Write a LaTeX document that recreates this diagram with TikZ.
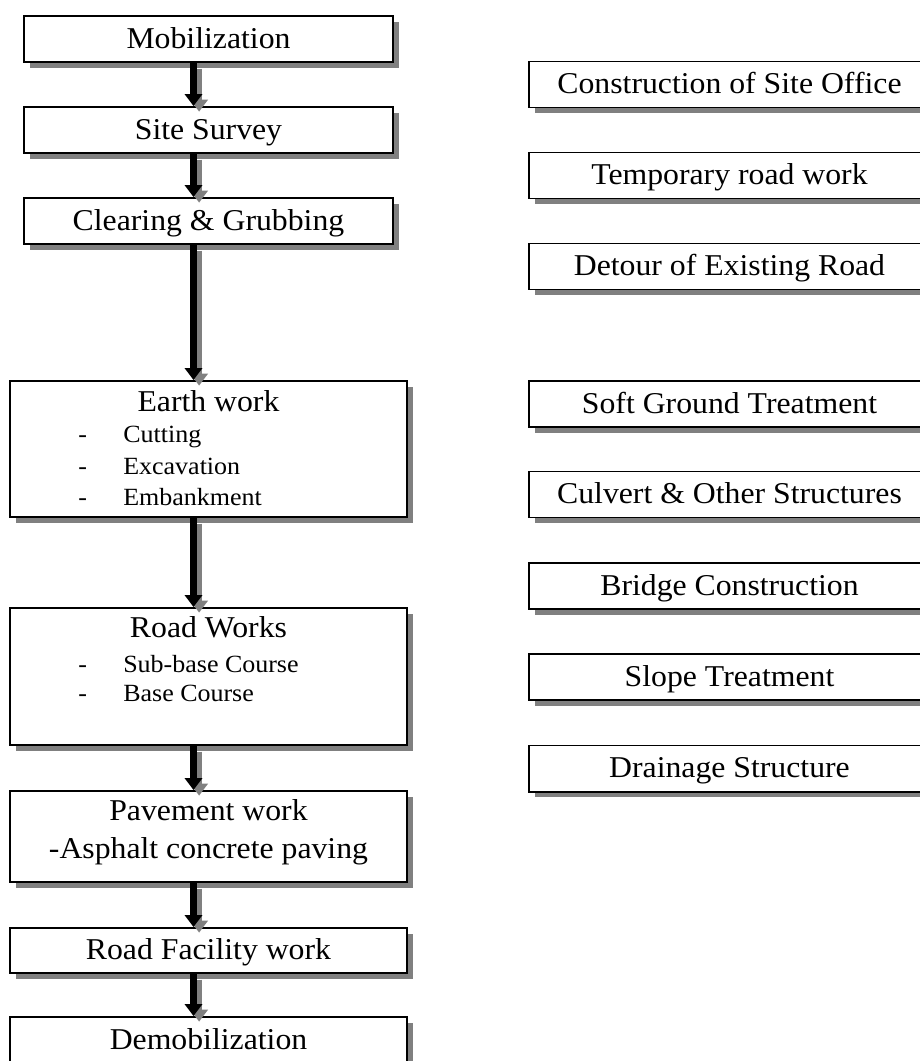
\documentclass[tikz,border=0pt]{standalone}
\usepackage{fontspec}
\setmainfont{Liberation Serif}[FakeStretch=1.05]
\usetikzlibrary{shadows,arrows.meta}
\tikzset{>=stealth}

\tikzset{
  stepbox/.style={draw, line width=1.4pt, fill=white, inner sep=0pt,
    minimum height=1.15cm, font=\fontsize{21.5pt}{26pt}\selectfont,
    text height=0.53cm, text depth=0.08cm,
    drop shadow={shadow xshift=0.14cm, shadow yshift=-0.14cm, fill=gray, opacity=1}},
  narrowbox/.style={stepbox, minimum width=9.225cm},
  widebox/.style={stepbox, minimum width=9.925cm},
  sidebox/.style={stepbox, minimum width=10.025cm},
  boxtitle/.style={anchor=base, inner sep=0pt, font=\fontsize{21.5pt}{26pt}\selectfont},
  boxitem/.style={anchor=base west, inner sep=0pt, font=\fontsize{17.6pt}{21pt}\selectfont},
  flow/.style={line width=4.6pt, -{Triangle[width=0.43cm,length=0.3cm]}},
  flowshadow/.style={flow, gray, transform canvas={xshift=0.14cm, yshift=-0.14cm}},
}

\begin{document}
\begin{tikzpicture}[x=0.025cm, y=-0.025cm]
    \useasboundingbox (0,0) rectangle (920,1061);
    \coordinate (spine) at (193.5,0);

    % main sequence
    \node[narrowbox] (mob) at (208.5,39) {Mobilization};
    \node[narrowbox] (survey) at (208.5,130) {Site Survey};
    \node[narrowbox] (clear) at (208.5,221) {Clearing \& Grubbing};
    \node[widebox, minimum height=3.4cm] (earth) at (208.5,449) {};
    \node[widebox, minimum height=3.425cm] (road) at (208.5,676.5) {};
    \node[widebox, minimum height=2.275cm] (pave) at (208.5,836.5) {};
    \node[widebox, minimum height=1.125cm] (facility) at (208.5,950.5) {Road Facility work};
    \node[widebox] (demob) at (208.5,1040) {Demobilization};

    % texts of the larger boxes
    \node[boxtitle] (earthT) at (208.5,411) {Earth work};
    \node[boxitem] (earthD1) at (78,442) {-};
    \node[boxitem] (earthI1) at (123,442) {Cutting};
    \node[boxitem] (earthD2) at (78,474) {-};
    \node[boxitem] (earthI2) at (123,474) {Excavation};
    \node[boxitem] (earthD3) at (78,505) {-};
    \node[boxitem] (earthI3) at (123,505) {Embankment};

    \node[boxtitle] (roadT) at (208.5,637) {Road Works};
    \node[boxitem] (roadD1) at (78,672) {-};
    \node[boxitem] (roadI1) at (123,672) {Sub-base Course};
    \node[boxitem] (roadD2) at (78,701) {-};
    \node[boxitem] (roadI2) at (123,701) {Base Course};

    \node[boxtitle] (paveT) at (208.5,820) {Pavement work};
    \node[boxtitle] (paveS) at (208.5,858) {-Asphalt concrete paving};

    % side works
    \node[sidebox] (office) at (729.5,84.5) {Construction of Site Office};
    \node[sidebox] (temp) at (729.5,175.5) {Temporary road work};
    \node[sidebox] (detour) at (729.5,266.5) {Detour of Existing Road};
    \node[sidebox] (soft) at (729.5,404) {Soft Ground Treatment};
    \node[sidebox] (culvert) at (729.5,494.5) {Culvert \& Other Structures};
    \node[sidebox] (bridge) at (729.5,586) {Bridge Construction};
    \node[sidebox] (slope) at (729.5,677) {Slope Treatment};
    \node[sidebox] (drain) at (729.5,768.5) {Drainage Structure};

    % arrows with their shadows
    \foreach \a/\b in {mob/survey, survey/clear, clear/earth, earth/road,
                       road/pave, pave/facility, facility/demob} {
        \draw[flowshadow] (\a.south -| spine) -- (\b.north -| spine);
        \draw[flow] (\a.south -| spine) -- (\b.north -| spine);
    }
\end{tikzpicture}
\end{document}
